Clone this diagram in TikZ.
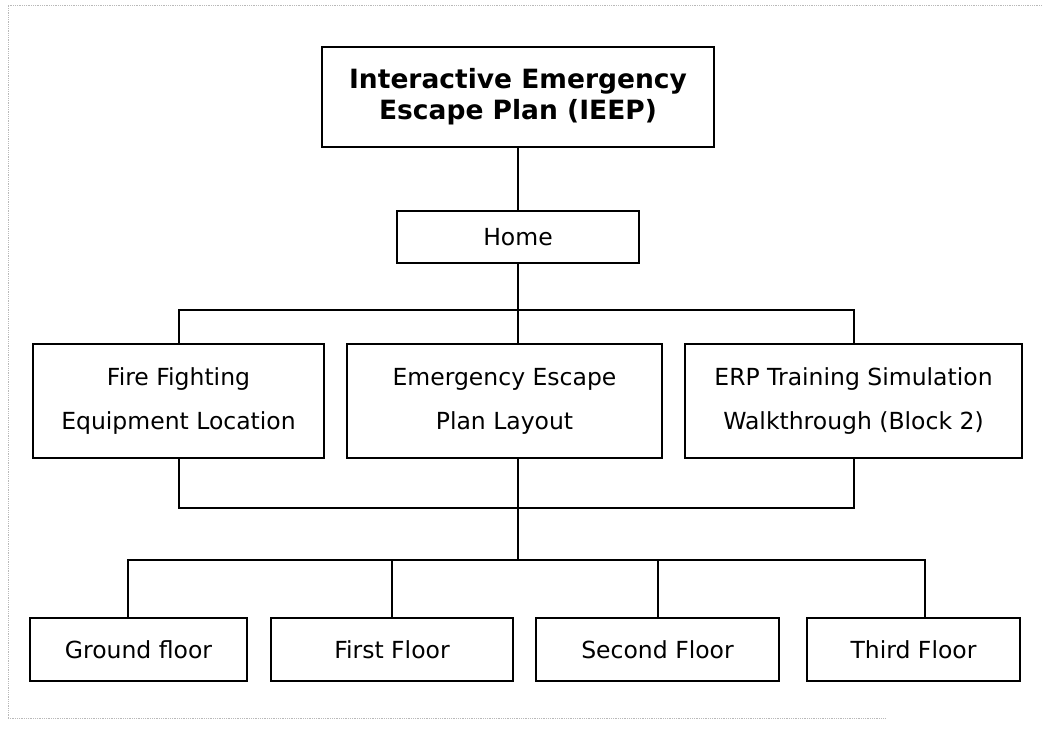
\documentclass[tikz,border=0pt]{standalone}
\usepackage{fontspec}
\setmainfont{DejaVu Sans}
\usetikzlibrary{positioning,calc}

\begin{document}
\begin{tikzpicture}[x=1pt, y=-1pt,
  head/.style={draw, line width=2pt, inner sep=0pt, align=center, font=\fontsize{26.5}{31}\selectfont\bfseries},
  item/.style={draw, line width=2pt, inner sep=0pt, align=center, font=\fontsize{23.5}{44}\selectfont},
  floorbox/.style={item, minimum height=63pt},
  link/.style={line width=2pt},
  frame/.style={draw=gray!55, line width=0.8pt, densely dotted}]
  \useasboundingbox (0,0) rectangle (1043,734);
  % page frame of the scan
  \draw[frame] (8,718) -- (8,5) -- (1043,5);
  \draw[frame] (8,718) -- (885,718);

  \node[head, minimum width=392pt, minimum height=100pt] (ieep) at (518,97) {Interactive Emergency\\Escape Plan (IEEP)};
  \node[item, minimum width=242pt, minimum height=52pt] (home) at (518,237) {Home};

  \node[item, minimum width=291pt, minimum height=114pt] (fire) at (178.5,401) {Fire Fighting\\Equipment Location};
  \node[item, minimum width=315pt, minimum height=114pt] (emerg) at (504.5,401) {Emergency Escape\\Plan Layout};
  \node[item, minimum width=337pt, minimum height=114pt] (erp) at (853.5,401) {ERP Training Simulation\\Walkthrough (Block 2)};

  \node[floorbox, minimum width=217pt] (ground) at (138.5,649.5) {Ground floor};
  \node[floorbox, minimum width=242pt] (first) at (392,649.5) {First Floor};
  \node[floorbox, minimum width=243pt] (second) at (657.5,649.5) {Second Floor};
  \node[floorbox, minimum width=213pt] (third) at (913.5,649.5) {Third Floor};

  \coordinate (busA) at (518,310);
  \coordinate (busB) at (518,508);
  \coordinate (busC) at (518,560);
  \coordinate (gtap) at (128,560);
  \coordinate (ttap) at (925,560);

  \draw[link] (ieep) -- (home);
  \draw[link] (home.south) -- (home.south |- emerg.north);
  \draw[link] (fire.north) |- (busA) -| (erp.north);
  % the three pages join again and lead to the floors
  \draw[link] (fire.south) |- (busB) -| (erp.south);
  \draw[link] (home.south |- emerg.south) -- (busC);
  \draw[link] (ground.north -| gtap) -- (gtap) -- (ttap) -- (ttap |- third.north);
  \draw[link] (first.north) -- (first.north |- busC);
  \draw[link] (second.north) -- (second.north |- busC);
\end{tikzpicture}
\end{document}
